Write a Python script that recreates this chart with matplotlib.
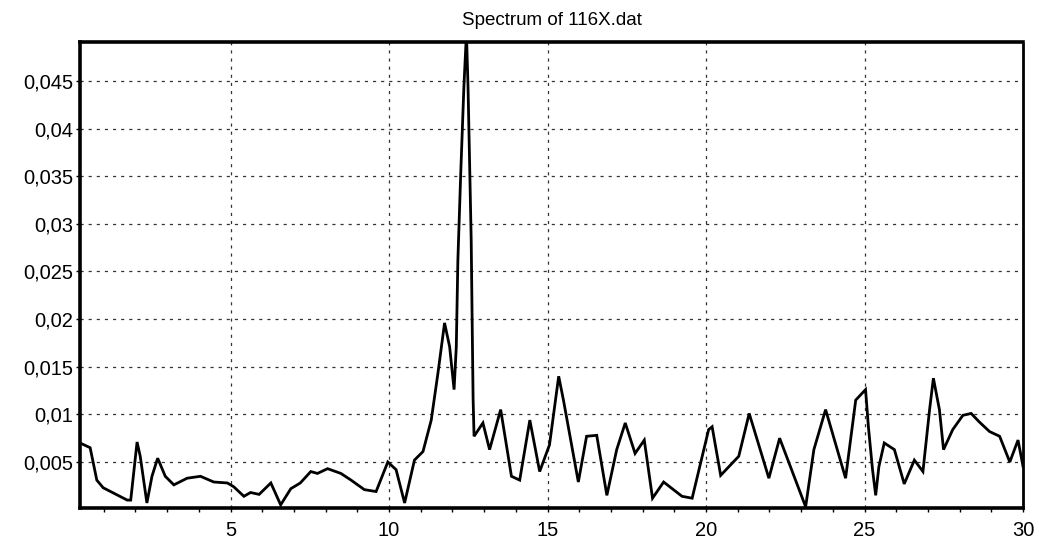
import numpy as np
import matplotlib
matplotlib.use("Agg")
import matplotlib.pyplot as plt
from matplotlib.ticker import FuncFormatter, MultipleLocator

# frequency / amplitude
freq = [0.25, 0.57, 0.78, 0.98, 1.74, 1.85, 2.05, 2.15, 2.36, 2.52, 2.70, 2.94,
        3.21, 3.63, 4.05, 4.47, 4.90, 5.10, 5.42, 5.63, 5.90, 6.27, 6.58, 6.90,
        7.20, 7.53, 7.74, 8.06, 8.48, 8.80, 9.22, 9.59, 9.96, 10.22, 10.49, 10.80,
        11.07, 11.33, 11.54, 11.75, 11.91, 12.05, 12.12, 12.17, 12.26, 12.36, 12.44,
        12.49, 12.54, 12.59, 12.62, 12.65, 12.68, 12.96, 13.17, 13.52, 13.86, 14.12,
        14.44, 14.75, 15.06, 15.35, 15.50, 15.97, 16.23, 16.55, 16.87, 17.18, 17.45,
        17.76, 18.05, 18.31, 18.66, 19.24, 19.56, 20.08, 20.19, 20.46, 21.03, 21.36,
        21.98, 22.32, 23.14, 23.40, 23.77, 24.40, 24.72, 25.03, 25.12, 25.25, 25.35,
        25.45, 25.62, 25.94, 26.25, 26.57, 26.84, 27.05, 27.17, 27.36, 27.49, 27.78,
        28.10, 28.36, 28.62, 28.94, 29.26, 29.58, 29.84, 30.00]
amp = [0.0070, 0.0065, 0.0031, 0.0023, 0.0010, 0.0010, 0.0071, 0.0056, 0.0007, 0.0035,
       0.0054, 0.0035, 0.0026, 0.0033, 0.0035, 0.0029, 0.0028, 0.0024, 0.0014, 0.0018,
       0.0016, 0.0028, 0.0005, 0.0022, 0.0028, 0.0040, 0.0038, 0.0043, 0.0038, 0.0031,
       0.0021, 0.0019, 0.0050, 0.0042, 0.0007, 0.0052, 0.0061, 0.0094, 0.0143, 0.0196,
       0.0171, 0.0126, 0.0171, 0.0262, 0.0353, 0.0444, 0.0500, 0.0444, 0.0364, 0.0283,
       0.0199, 0.0117, 0.0077, 0.0091, 0.0063, 0.0105, 0.0035, 0.0031, 0.0094, 0.0040,
       0.0068, 0.0140, 0.0115, 0.0029, 0.0077, 0.0078, 0.0015, 0.0063, 0.0091, 0.0059,
       0.0073, 0.0012, 0.0029, 0.0014, 0.0012, 0.0084, 0.0087, 0.0036, 0.0056, 0.0101,
       0.0033, 0.0075, 0.0003, 0.0063, 0.0105, 0.0033, 0.0115, 0.0126, 0.0087, 0.0042,
       0.0015, 0.0045, 0.0070, 0.0063, 0.0027, 0.0052, 0.0040, 0.0105, 0.0138, 0.0105,
       0.0063, 0.0084, 0.0099, 0.0101, 0.0092, 0.0082, 0.0077, 0.0050, 0.0073, 0.0045]

title = "Spectrum of 116X.dat"

plt.rcParams['font.family'] = ['Liberation Sans', 'DejaVu Sans']

fig = plt.figure(figsize=(10.39, 5.51), dpi=100)
ax = fig.add_axes([0.077, 0.078, 0.9077, 0.846])

ax.plot(freq, amp, color='black', lw=2.0, solid_joinstyle='miter')

ax.set_xlim(0.25, 30)
ax.set_ylim(0.00017, 0.0491)
ax.xaxis.set_major_locator(MultipleLocator(5))
ax.xaxis.set_minor_locator(MultipleLocator(1))
ax.yaxis.set_major_locator(MultipleLocator(0.005))

def comma(v, pos):
    if v <= 0:
        return ''
    return ('%g' % round(v, 4)).replace('.', ',')

ax.yaxis.set_major_formatter(FuncFormatter(comma))
ax.xaxis.set_major_formatter(FuncFormatter(lambda v, p: '%d' % v if v > 0 else ''))

ax.grid(True, which='major', color='#333333', linestyle=(0, (2.5, 4)), lw=0.9)
ax.tick_params(axis='both', which='major', labelsize=14.5, length=3, width=1, colors='black')
ax.tick_params(axis='x', which='minor', length=3, width=1)
ax.tick_params(axis='x', pad=6)
ax.tick_params(axis='y', pad=2)

for s in ['left', 'bottom', 'top']:
    ax.spines[s].set_linewidth(2.6)
ax.spines['right'].set_linewidth(2.0)
ax.spines['right'].set_linestyle((0, (1, 1)))

ax.set_title(title, fontsize=13.5, pad=12)

fig.savefig('out.png', dpi=100)
